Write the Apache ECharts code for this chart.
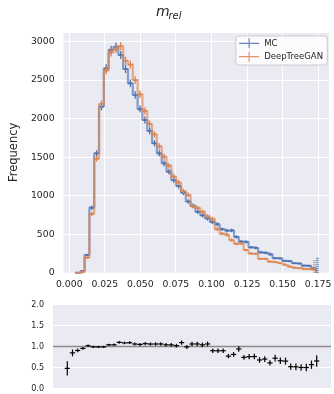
<!DOCTYPE html>
<html>
<head>
<meta charset="utf-8">
<script src="https://cdn.jsdelivr.net/npm/echarts@6/dist/echarts.min.js"></script>
<style>
html, body { margin: 0; padding: 0; background: #fff; }
#chart { width: 334px; height: 394px; }
</style>
</head>
<body>
<div id="chart"></div>
<script>
// binning of m_rel
const binLo = 0.0040
const binHi = 0.1735
const nBins = 50

// counts per bin
const mcCounts = [0, 25, 231, 845, 1550, 2155, 2652, 2890, 2932, 2825,
  2643, 2457, 2306, 2124, 1982, 1840, 1680, 1550, 1420, 1311,
  1200, 1126, 1039, 925, 870, 790, 745, 705, 660, 630,
  565, 545, 550, 465, 405, 400, 330, 322, 265, 258,
  236, 190, 186, 155, 150, 124, 120, 94, 90, 58]
const ganCounts = [0, 12, 196, 765, 1480, 2190, 2625, 2860, 2905, 2940,
  2750, 2700, 2500, 2315, 2100, 1930, 1795, 1640, 1505, 1390,
  1248, 1171, 1060, 1010, 862, 837, 790, 733, 700, 567,
  508, 490, 424, 377, 381, 296, 250, 245, 180, 181,
  144, 137, 123, 101, 78, 64, 60, 47, 51, 38]

// the short hatched spikes at the last edge (MC, DeepTreeGAN)
const endSpikes = [195, 165]

const xTicks = [0, 0.025, 0.05, 0.075, 0.1, 0.125, 0.15, 0.175]
const ratioRef = 1

const BLUE = '#4C72B0'
const ORANGE = '#DD8452'
const TEXT = '#262626'
const BG = '#EAEAF2'
const FONT = 'DejaVu Sans'

const width = (binHi - binLo) / nBins
const edges = Array.from({ length: nBins + 1 }, (_, i) => binLo + i * width)

// step outline of a histogram
const stepPoints = (counts) => {
  const pts = [[edges[0], 0]]
  counts.forEach((c, i) => {
    pts.push([edges[i], c])
    pts.push([edges[i + 1], c])
  })
  pts.push([edges[nBins], 0])
  return pts
}

// [left, right, value, error] per filled bin
const errorRows = (counts) => counts
  .map((c, i) => [edges[i], edges[i + 1], c, Math.sqrt(c)])
  .filter(r => r[2] > 0)

const ratioRows = mcCounts
  .map((m, i) => {
    const g = ganCounts[i]
    if (m <= 0 || g <= 0) return null
    const r = g / m
    return [edges[i], edges[i + 1], r, r * Math.sqrt(1 / g + 1 / m)]
  })
  .filter(Boolean)

const crossRenderer = (color, lw) => (params, api) => {
  const x0 = api.value(0), x1 = api.value(1), y = api.value(2), e = api.value(3)
  const xm = (x0 + x1) / 2
  const pl = api.coord([x0, y]), pr = api.coord([x1, y])
  const pt = api.coord([xm, y + e]), pb = api.coord([xm, y - e])
  const style = { stroke: color, lineWidth: lw }
  return {
    type: 'group',
    children: [
      { type: 'line', shape: { x1: pl[0], y1: pl[1], x2: pr[0], y2: pr[1] }, style },
      { type: 'line', shape: { x1: pt[0], y1: pt[1], x2: pb[0], y2: pb[1] }, style }
    ]
  }
}

const chart = echarts.init(document.getElementById('chart'), null, { renderer: 'canvas' })

const legendIcon = 'path://M0,4.4H20V5.6H0Z M9.4,0H10.6V10H9.4Z'

chart.setOption({
  animation: false,
  textStyle: { fontFamily: FONT, color: TEXT },
  graphic: [
    {
      type: 'text', x: 156, y: 12.2,
      style: { text: 'm', font: 'italic 14px "DejaVu Sans"', fill: TEXT, textVerticalAlign: 'middle', verticalAlign: 'middle' }
    },
    {
      type: 'text', x: 168.5, y: 16,
      style: { text: 'rel', font: 'italic 10px "DejaVu Sans"', fill: TEXT, textVerticalAlign: 'middle', verticalAlign: 'middle' }
    }
  ],
  legend: {
    orient: 'vertical',
    right: 6.7,
    top: 36,
    itemWidth: 20,
    itemHeight: 10,
    itemGap: 3.4,
    padding: [2.3, 4.3, 3.3, 3.3],
    backgroundColor: 'rgba(255,255,255,0.8)',
    borderColor: '#cccccc',
    borderWidth: 1,
    borderRadius: 3,
    selectedMode: false,
    textStyle: { fontSize: 8.5, color: TEXT, fontFamily: FONT, lineHeight: 10 },
    data: [
      { name: 'MC', icon: legendIcon, itemStyle: { color: BLUE, opacity: 0.85 } },
      { name: 'DeepTreeGAN', icon: legendIcon, itemStyle: { color: ORANGE, opacity: 0.85 } }
    ]
  },
  grid: [
    { left: 53, top: 32, width: 278, height: 240.8, show: true, backgroundColor: BG, borderWidth: 0 },
    { left: 53, top: 304.5, width: 278, height: 84, show: true, backgroundColor: BG, borderWidth: 0 }
  ],
  xAxis: [
    {
      type: 'value', gridIndex: 0, min: -0.0040, max: 0.1825,
      axisLine: { show: false }, axisTick: { show: false }, splitLine: { show: false },
      axisLabel: {
        customValues: xTicks, fontSize: 9.3, color: TEXT, margin: 7,
        formatter: v => v.toFixed(3)
      }
    },
    { type: 'value', gridIndex: 1, min: -0.00025, max: 0.18114, show: false }
  ],
  yAxis: [
    {
      type: 'value', gridIndex: 0, min: 0, max: 3123, interval: 500,
      name: 'Frequency', nameLocation: 'middle', nameGap: 39,
      nameTextStyle: { fontSize: 11.5, color: TEXT },
      axisLine: { show: false }, axisTick: { show: false },
      splitLine: { lineStyle: { color: '#fff', width: 1 } },
      axisLabel: { fontSize: 9.3, color: TEXT, margin: 9, showMaxLabel: false, formatter: v => String(v) }
    },
    {
      type: 'value', gridIndex: 1, min: 0, max: 2, interval: 0.5,
      axisLine: { show: false }, axisTick: { show: false },
      splitLine: { lineStyle: { color: '#fff', width: 1 } },
      axisLabel: { fontSize: 8, color: TEXT, margin: 9, formatter: v => v.toFixed(1) }
    }
  ],
  series: [
    {
      // vertical grid lines of the upper panel
      type: 'custom', xAxisIndex: 0, yAxisIndex: 0, z: 1, silent: true,
      data: xTicks.map(t => [t]),
      encode: { x: 0 },
      renderItem: (params, api) => {
        const cs = params.coordSys
        const x = Math.round(api.coord([api.value(0), 0])[0] - 0.5) + 0.5
        return { type: 'line', shape: { x1: x, y1: cs.y, x2: x, y2: cs.y + cs.height }, style: { stroke: '#fff', lineWidth: 1 } }
      }
    },
    {
      name: 'MC', type: 'line', xAxisIndex: 0, yAxisIndex: 0, z: 2,
      data: stepPoints(mcCounts), symbol: 'none', silent: true,
      lineStyle: { color: BLUE, width: 2.2, opacity: 0.65 }
    },
    {
      name: 'MC', type: 'custom', xAxisIndex: 0, yAxisIndex: 0, z: 3, silent: true,
      data: errorRows(mcCounts), encode: { x: [0, 1], y: 2 },
      renderItem: crossRenderer(BLUE, 1.3)
    },
    {
      name: 'DeepTreeGAN', type: 'line', xAxisIndex: 0, yAxisIndex: 0, z: 4,
      data: stepPoints(ganCounts), symbol: 'none', silent: true,
      lineStyle: { color: ORANGE, width: 2.2, opacity: 0.65 }
    },
    {
      name: 'DeepTreeGAN', type: 'custom', xAxisIndex: 0, yAxisIndex: 0, z: 5, silent: true,
      data: errorRows(ganCounts), encode: { x: [0, 1], y: 2 },
      renderItem: crossRenderer(ORANGE, 1.3)
    },
    {
      // hatched spikes at the upper end of the range
      type: 'custom', xAxisIndex: 0, yAxisIndex: 0, z: 6, silent: true,
      data: endSpikes.map((v, i) => [binHi, v, i]),
      encode: { x: 0, y: 1 },
      renderItem: (params, api) => {
        const i = api.value(2)
        const base = api.coord([api.value(0), 0])
        const top = api.coord([api.value(0), api.value(1)])
        const dx = i === 0 ? 1.5 : -1.5
        return {
          type: 'line',
          shape: { x1: base[0] + dx, y1: base[1], x2: top[0] + dx, y2: top[1] },
          style: { stroke: i === 0 ? BLUE : ORANGE, lineWidth: 3, lineDash: [1, 1], opacity: 0.8 }
        }
      }
    },
    {
      // reference line at ratio 1
      type: 'custom', xAxisIndex: 1, yAxisIndex: 1, z: 2, silent: true,
      data: [[ratioRef]],
      encode: { y: 0 },
      renderItem: (params, api) => {
        const cs = params.coordSys
        const y = api.coord([0, api.value(0)])[1]
        return { type: 'line', shape: { x1: cs.x, y1: y, x2: cs.x + cs.width, y2: y }, style: { stroke: '#8a8a8a', lineWidth: 1.3 } }
      }
    },
    {
      type: 'custom', xAxisIndex: 1, yAxisIndex: 1, z: 3, silent: true,
      data: ratioRows, encode: { x: [0, 1], y: 2 },
      renderItem: crossRenderer('#000', 1.2)
    }
  ]
})
</script>
</body>
</html>
